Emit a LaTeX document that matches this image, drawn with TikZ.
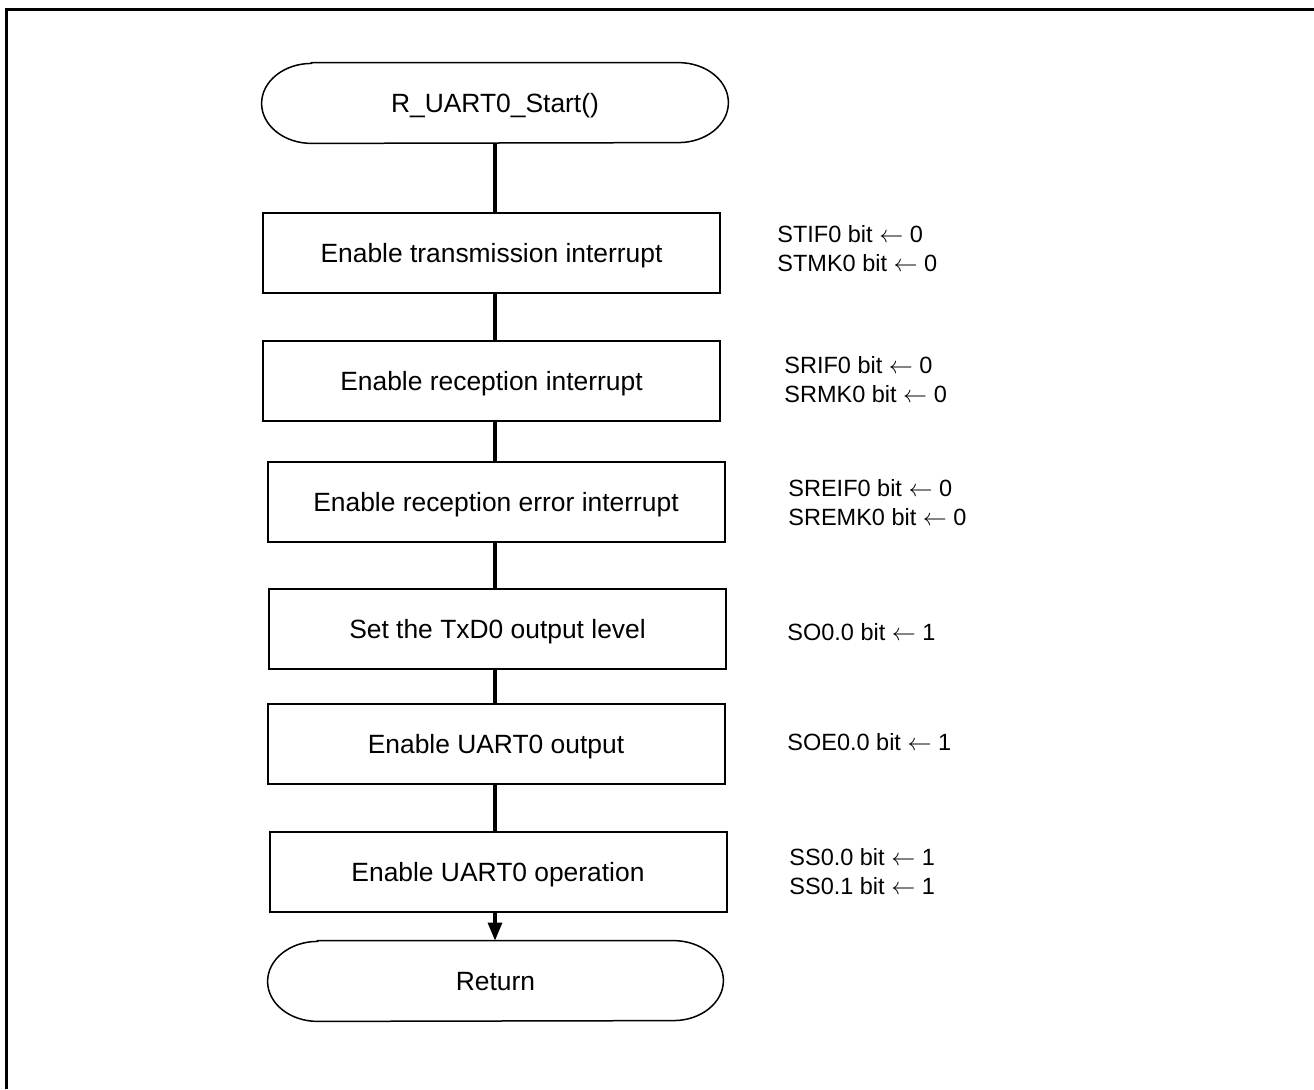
\documentclass[tikz,border=0pt]{standalone}
\usepackage{fontspec}
\setmainfont{Liberation Sans}
\usetikzlibrary{arrows.meta,calc}
\newcommand\termshape[1]{%
  \draw[termline] ($(#1.north west)+(25pt,0)$) -- ($(#1.north east)+(-25pt,0)$)
    arc[start angle=90,end angle=-90,x radius=25pt,y radius=20pt]
    -- ($(#1.south west)+(25pt,0)$)
    arc[start angle=270,end angle=90,x radius=25pt,y radius=20pt] -- cycle;}
\newcommand\lar{$\leftarrow$}
\begin{document}
\begin{tikzpicture}[x=0.5pt,y=0.5pt,
  box/.style={draw,line width=1pt,minimum width=228.5pt,minimum height=40pt,inner sep=0pt,text depth=0pt,font=\fontsize{13.2}{15}\selectfont},
  term/.style={minimum height=40pt,inner sep=0pt,text depth=0pt,font=\fontsize{13.2}{15}\selectfont},
  termline/.style={line width=0.75pt},
  note/.style={anchor=west,align=left,inner sep=0pt,font=\fontsize{11.75}{14.5}\selectfont},
  flow/.style={line width=1.6pt},
  frame/.style={line width=1.5pt}]
\useasboundingbox (0,0) rectangle (1314,-1089);
\draw[frame] (6,-1089) -- (6,-9) -- (1314,-9);

\node[term,minimum width=233pt] (start) at (495,-103) {R\_UART0\_Start()};
\node[box] (b1) at (491.5,-253) {Enable transmission interrupt};
\node[box] (b2) at (491.5,-381) {Enable reception interrupt};
\node[box] (b3) at (496,-501.5) {Enable reception error interrupt};
\node[box] (b4) at (497.5,-629) {Set the TxD0 output level};
\node[box] (b5) at (496,-744) {Enable UART0 output};
\node[box] (b6) at (498,-872) {Enable UART0 operation};
\node[term,minimum width=227.5pt] (ret) at (495.5,-981) {Return};
\termshape{start}
\termshape{ret}

\coordinate (spine) at (495,0);
\draw[flow] (start.south -| spine) -- (b1.north -| spine);
\draw[flow] (b1.south -| spine) -- (b2.north -| spine);
\draw[flow] (b2.south -| spine) -- (b3.north -| spine);
\draw[flow] (b3.south -| spine) -- (b4.north -| spine);
\draw[flow] (b4.south -| spine) -- (b5.north -| spine);
\draw[flow] (b5.south -| spine) -- (b6.north -| spine);
\draw[flow,-{Triangle[length=9pt,width=7pt]}] (b6.south -| spine) -- (ret.north -| spine);

\node[note] (n1) at (777,-249) {STIF0 bit \lar{} 0\\STMK0 bit \lar{} 0};
\node[note] (n2) at (784,-380) {SRIF0 bit \lar{} 0\\SRMK0 bit \lar{} 0};
\node[note] (n3) at (788,-502.5) {SREIF0 bit \lar{} 0\\SREMK0 bit \lar{} 0};
\node[note] (n4) at (787,-632.5) {SO0.0 bit \lar{} 1};
\node[note] (n5) at (787,-742.5) {SOE0.0 bit \lar{} 1};
\node[note] (n6) at (789,-871.5) {SS0.0 bit \lar{} 1\\SS0.1 bit \lar{} 1};
\end{tikzpicture}
\end{document}
